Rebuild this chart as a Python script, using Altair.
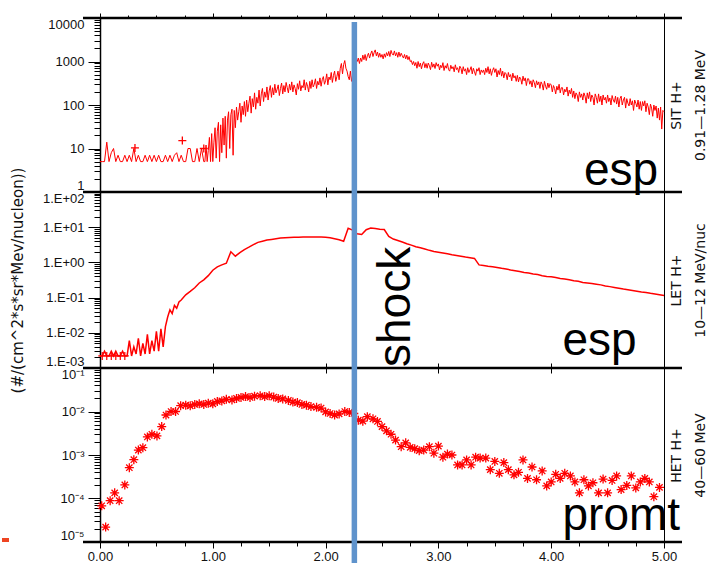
import altair as alt
import pandas as pd

# ---------------- data ----------------
# Panel 1 : SIT H+ 0.91-1.28 MeV
P1_VA = [  # t = 0.00 .. 0.92 every 0.02
    5, 5, 5, 14, 5, 8, 10, 5, 7, 5,
    5, 7, 5, 7, 5, 10, 5, 7, 5, 5,
    7, 5, 7, 5, 7, 5, 7, 5, 5, 7,
    5, 7, 5, 7, 8, 5, 7, 5, 5, 10,
    10, 5, 5, 10, 5, 10, 5,
]
P1_VB = [  # t = 0.93 .. 5.00 every 0.01
    5, 12, 5, 9, 18, 5, 22,
    5, 14, 30, 6, 25, 40, 5, 35, 8, 50,
    12, 55, 6, 45, 70, 10, 60, 80, 7, 75,
    30, 90, 45, 70, 110, 40, 95, 60, 120, 55,
    130, 70, 110, 160, 65, 140, 90, 190, 80, 150,
    110, 220, 95, 180, 240, 120, 200, 150, 260, 130,
    210, 280, 150, 250, 170, 300, 190, 230, 290, 165,
    240, 320, 180, 280, 200, 330, 250, 190, 300, 220,
    340, 200, 290, 240, 170, 310, 230, 360, 210, 280,
    250, 380, 220, 330, 270, 200, 350, 240, 380, 260,
    300, 400, 240, 350, 290, 420, 270, 380, 450, 300,
    360, 520, 290, 440, 380, 560, 330, 480, 600, 350,
    450, 600, 380, 700, 900, 520, 850, 1050, 700, 600,
    450, 380, 600, 350, 500, 750, 900, 1100, 1000, 1200,
    900, 1200, 1000, 1400, 1100, 1450, 1050, 1350, 1550, 1200,
    1500, 1750, 1300, 1600, 1850, 1350, 1650, 1250, 1550, 1250,
    1450, 1150, 1500, 1250, 1600, 1350, 1700, 1300, 1800, 1500,
    1400, 1750, 1350, 1600, 1250, 1650, 1300, 1550, 1350, 1200,
    1450, 1150, 1400, 1100, 1300, 1000, 1050, 850, 1000, 800,
    950, 700, 1000, 760, 920, 680, 880, 990, 720, 900,
    700, 920, 800, 650, 960, 740, 880, 690, 940, 780,
    880, 640, 820, 720, 940, 620, 800, 700, 900, 650,
    600, 820, 680, 760, 580, 840, 650, 720, 560, 780,
    700, 520, 760, 600, 680, 500, 720, 560, 640, 760,
    520, 700, 580, 480, 680, 600, 720, 500, 640, 560,
    640, 500, 700, 560, 760, 520, 680, 480, 620, 720,
    560, 680, 440, 620, 500, 700, 460, 600, 420, 560,
    520, 380, 560, 440, 500, 360, 540, 420, 470, 350,
    480, 340, 440, 400, 300, 460, 360, 420, 280, 400,
    400, 300, 360, 260, 380, 330, 250, 360, 290, 340,
    240, 340, 300, 220, 350, 270, 230, 320, 250, 310,
    290, 200, 280, 240, 180, 270, 220, 300, 190, 250,
    250, 170, 230, 200, 260, 160, 220, 180, 240, 150,
    210, 140, 190, 170, 120, 200, 150, 180, 130, 190,
    160, 110, 190, 140, 200, 120, 170, 150, 100, 180,
    150, 110, 180, 120, 160, 100, 170, 130, 150, 110,
    170, 120, 145, 100, 165, 130, 115, 160, 105, 150,
    90, 140, 160, 100, 130, 150, 85, 140, 110, 95,
    140, 100, 125, 75, 130, 110, 90, 130, 80, 120,
    75, 120, 95, 125, 70, 110, 90, 60, 105, 85,
    55, 100, 75, 95, 50, 85, 45, 90, 28, 75,
    70,
]
P1_PLUS_T = [0.31, 0.73, 0.92]
P1_PLUS_V = [10.3, 15.2, 10.0]

# Panel 2 : LET H+ 10-12 MeV/nuc
P2_VA = [  # t = 0.00 .. 0.70 every 0.02
    2.2e-3, 2.2e-3, 3e-3, 2.2e-3, 2.2e-3, 3e-3, 2.2e-3, 3e-3, 2.2e-3, 2.2e-3,
    3e-3, 2.2e-3, 2.2e-3, 6e-3, 2.2e-3, 4e-3, 2.5e-3, 7e-3, 2.2e-3, 5e-3,
    2.5e-3, 9e-3, 2.5e-3, 6e-3, 3e-3, 1.1e-2, 3e-3, 1.3e-2, 4e-3, 1.5e-2,
    2.8e-2, 0.045, 0.035, 0.06, 0.05, 0.075,
]
P2_VB = [  # t = 0.72 .. 5.00 every 0.04
    0.085, 0.12, 0.15, 0.19, 0.26, 0.32, 0.42, 0.6, 0.75, 0.85,
    0.95, 2.0, 1.5, 1.9, 2.3, 2.7, 3.2, 3.7, 4.0, 4.3,
    4.5, 4.7, 4.9, 5.0, 5.1, 5.2, 5.2, 5.3, 5.3, 5.3,
    5.3, 5.25, 5.2, 5.0, 4.7, 4.4, 4.0, 9.3, 8.3, 6.5,
    6.2, 8.5, 9.5, 9.2, 8.8, 8.6, 5.5, 4.6, 4.2, 3.8,
    3.4, 3.1, 2.8, 2.6, 2.4, 2.2, 2.05, 1.95, 1.85, 1.75,
    1.65, 1.58, 1.5, 1.42, 1.36, 1.3, 0.85, 0.82, 0.78, 0.75,
    0.72, 0.68, 0.65, 0.61, 0.58, 0.55, 0.52, 0.5, 0.47, 0.45,
    0.42, 0.4, 0.39, 0.37, 0.35, 0.34, 0.32, 0.3, 0.29, 0.27,
    0.26, 0.25, 0.24, 0.23, 0.215, 0.205, 0.195, 0.185, 0.175, 0.167,
    0.16, 0.152, 0.145, 0.14, 0.132, 0.126, 0.12, 0.115,
]
P2_PLUS_T = [0.02, 0.06, 0.10, 0.14, 0.18, 0.22]
P2_PLUS_V = [2.2e-3, 2.2e-3, 2.2e-3, 2.2e-3, 2.2e-3, 2.2e-3]

# Panel 3 : HET H+ 40-60 MeV (hourly points)
P3_T = [
    0.015, 0.05, 0.09, 0.13, 0.17, 0.22, 0.26, 0.30, 0.34, 0.38,
    0.42, 0.46, 0.505, 0.547, 0.585, 0.63, 0.67, 0.715, 0.76, 0.80,
    0.84, 0.88, 0.92, 0.96, 1.00, 1.04, 1.08, 1.12, 1.17, 1.21,
    1.25, 1.29, 1.33, 1.37, 1.42, 1.46, 1.50, 1.54, 1.58, 1.62,
    1.67, 1.71, 1.75, 1.79, 1.83, 1.87, 1.92, 1.96, 2.00, 2.04,
    2.08, 2.12, 2.17, 2.21, 2.25, 2.29, 2.33, 2.37, 2.42, 2.46,
    2.50, 2.54, 2.58, 2.62, 2.67, 2.71, 2.75, 2.79, 2.83, 2.87,
    2.92, 2.96, 3.00, 3.04, 3.08, 3.12, 3.17, 3.21, 3.25, 3.29,
    3.33, 3.37, 3.42, 3.46, 3.50, 3.54, 3.58, 3.62, 3.67, 3.71,
    3.75, 3.79, 3.83, 3.87, 3.92, 3.96, 4.00, 4.04, 4.08, 4.12,
    4.17, 4.21, 4.25, 4.29, 4.33, 4.37, 4.42, 4.46, 4.50, 4.54,
    4.58, 4.62, 4.67, 4.71, 4.75, 4.79, 4.83, 4.87, 4.91, 4.96,
]
P3_V = [
    6.8e-5, 2.2e-5, 8.9e-5, 1.35e-4, 8.9e-5, 2.05e-4, 5.1e-4, 7.8e-4, 1.3e-3, 1.47e-3,
    2.6e-3, 3.0e-3, 2.75e-3, 4.5e-3, 8.3e-3, 1.0e-2, 1.0e-2, 1.36e-2, 1.4e-2, 1.35e-2,
    1.45e-2, 1.5e-2, 1.45e-2, 1.55e-2, 1.5e-2, 1.7e-2, 1.75e-2, 1.9e-2, 1.85e-2, 2.0e-2,
    2.1e-2, 2.2e-2, 2.1e-2, 2.25e-2, 2.3e-2, 2.2e-2, 2.3e-2, 2.15e-2, 2.0e-2, 1.95e-2,
    1.8e-2, 1.65e-2, 1.6e-2, 1.45e-2, 1.4e-2, 1.3e-2, 1.25e-2, 1.2e-2, 9.8e-3, 9.0e-3,
    8.3e-3, 8.8e-3, 1.0e-2, 9.5e-3, 9.0e-3, 6.3e-3, 6.0e-3, 7.6e-3, 6.8e-3, 5.9e-3,
    4.5e-3, 3.6e-3, 3.0e-3, 2.2e-3, 1.55e-3, 1.9e-3, 1.5e-3, 1.4e-3, 1.26e-3, 1.3e-3,
    1.55e-3, 1.1e-3, 1.6e-3, 8.9e-4, 1.05e-3, 1.0e-3, 5.9e-4, 5.9e-4, 7.7e-4, 5.9e-4,
    8.9e-4, 8.5e-4, 8.5e-4, 4.6e-4, 7.1e-4, 3.8e-4, 6.7e-4, 4.6e-4, 3.5e-4, 4.0e-4,
    7.7e-4, 2.9e-4, 5.3e-4, 2.7e-4, 4.3e-4, 1.95e-4, 2.4e-4, 3.6e-4, 2.9e-4, 3.8e-4,
    3.3e-4, 2.4e-4, 1.35e-4, 2.7e-4, 1.95e-4, 2.3e-4, 1.35e-4, 2.8e-4, 1.35e-4, 2.6e-4,
    3.3e-4, 1.6e-4, 2.0e-4, 3.3e-4, 1.75e-4, 2.4e-4, 2.9e-4, 2.4e-4, 1.1e-4, 1.8e-4,
]

RIGHT_TITLES = [
    ["SIT H+", "0.91—1.28  MeV"],
    ["LET H+", "10—12  MeV/nuc"],
    ["HET H+", "40—60  MeV"],
]
LEFT_TITLE = "(#/(cm^2*s*sr*Mev/nucleon))"
Y_EXP_RANGES = [(0, 4), (-3, 2), (-5, -1)]
SHOCK_T = 2.255
ANNOTATIONS = [
    # (panel, text, t, value, angle)
    (0, "esp", 4.29, 1.45, 0),
    (1, "esp", 4.10, 2.34e-3, 0),
    (1, "shock", 2.75, 1.07e-3, 270),
    (2, "promt", 4.10, 1.85e-5, 0),
]

assert len(P1_VA) == 47 and len(P1_VB) == 408
assert len(P2_VA) == 36 and len(P2_VB) == 108
assert len(P3_T) == len(P3_V)

P1_T = [round(i * 0.02, 2) for i in range(len(P1_VA))] + [
    round(0.93 + i * 0.01, 2) for i in range(len(P1_VB))
]
P1_V = P1_VA + P1_VB
P2_T = [round(i * 0.02, 2) for i in range(len(P2_VA))] + [
    round(0.72 + i * 0.04, 2) for i in range(len(P2_VB))
]
P2_V = P2_VA + P2_VB

# ---------------- styling ----------------
RED = "#ff0000"
BLUE = "#5f93cc"
FONT = "Liberation Sans"
W = 564
HEIGHTS = [174, 176, 174]
PLUS = "M-1,0L1,0M0,-1L0,1"
STAR = "M-1,0L1,0M0,-1L0,1M-0.7,-0.7L0.7,0.7M-0.7,0.7L0.7,-0.7"

IS_DEC = "abs(log(datum.value)/LN10 - round(log(datum.value)/LN10)) < 0.001"
EXP = "round(log(datum.value)/LN10)"
LABEL_EXPRS = [
    f"{IS_DEC} ? format(datum.value, 'd') : ''",
    f"{IS_DEC} ? '1.E' + ({EXP} < 0 ? '-' : '+') + '0' + abs({EXP}) : ''",
    f"{IS_DEC} ? '10⁻' + ['⁰','¹','²','³','⁴','⁵'][abs({EXP})] : ''",
]

XS = alt.Scale(domain=[0, 5], nice=False, zero=False)
X_QUARTERS = [i * 0.25 for i in range(21)]
X_INNER = [1, 2, 3, 4]


def log_ticks(lo, hi):
    vals = [float(f"{m}e{k}") for k in range(lo, hi) for m in range(1, 10)]
    vals.append(float(f"1e{hi}"))
    return vals


def y_scale(i):
    lo, hi = Y_EXP_RANGES[i]
    return alt.Scale(type="log", domain=[float(f"1e{lo}"), float(f"1e{hi}")], nice=False)


def left_axis(i, **extra):
    lo, hi = Y_EXP_RANGES[i]
    return alt.Axis(
        orient="left", values=log_ticks(lo, hi), labelExpr=LABEL_EXPRS[i], grid=False,
        domain=True, domainColor="black", domainWidth=1.5,
        ticks=True, tickColor="black", tickWidth=1,
        tickSize={"condition": {"test": IS_DEC, "value": 12}, "value": 6},
        labelFlush=True, labelOverlap=False, labelFont=FONT, labelFontSize=13,
        labelColor="#111", labelPadding=4, **extra)


def right_axis(i):
    return alt.Axis(
        orient="right", title=RIGHT_TITLES[i], ticks=False, labels=False, grid=False,
        domain=True, domainColor="black", domainWidth=1,
        titleAngle=270, titleAlign="center", titleBaseline="top",
        titleX=5, titleY=HEIGHTS[i] / 2,
        titleFont="DejaVu Sans", titleFontSize=14, titleFontWeight="normal",
        titleColor="#111", titleLineHeight=24)


def x_axis(orient, values, major, minor=None, labels=False):
    kw = dict(orient=orient, values=values, grid=False, domain=False, ticks=True,
              tickColor="black", tickWidth=1, title=None, labels=labels)
    if minor is None:
        kw["tickSize"] = major
    else:
        kw["tickSize"] = {"condition": {"test": "datum.value % 1 === 0", "value": major},
                          "value": minor}
    if labels:
        kw.update(labelExpr="datum.value % 1 === 0 ? format(datum.value, '.2f') : ''",
                  labelFont=FONT, labelFontSize=13, labelColor="#111",
                  labelFlush=False, labelOverlap=False, labelPadding=2)
    return alt.Axis(**kw)


def sep_rule(y):
    return alt.Chart().mark_rule(color="black", strokeWidth=2.5).encode(
        x=alt.value(-17), x2=alt.value(582), y=alt.value(y))


def build_panel(i, data_layers, top_vals, top_major, top_minor,
                blue_y0, blue_y1, seps, extra=()):
    h = HEIGHTS[i]
    layers = list(data_layers)
    anns = [a for a in ANNOTATIONS if a[0] == i]
    for k, (_, txt, t, v, ang) in enumerate(anns):
        mk = dict(text=txt, font=FONT, fontSize=46, align="left",
                  baseline="alphabetic", color="black")
        if ang:
            mk["angle"] = ang
        if k == 0:
            xe = alt.XDatum(t, type="quantitative", scale=XS,
                            axis=x_axis("top", top_vals, top_major, top_minor))
            ye = alt.YDatum(v, type="quantitative", scale=y_scale(i), axis=right_axis(i))
        else:
            xe = alt.XDatum(t, type="quantitative", axis=None)
            ye = alt.YDatum(v, type="quantitative", axis=None)
        layers.append(alt.Chart().mark_text(**mk).encode(x=xe, y=ye))
    for y in seps:
        layers.append(sep_rule(y))
    layers.extend(extra)
    layers.append(alt.Chart().mark_rule(color=BLUE, strokeWidth=5.5).encode(
        x=alt.XDatum(SHOCK_T, type="quantitative", axis=None),
        y=alt.value(blue_y0), y2=alt.value(blue_y1)))
    return alt.layer(*layers).resolve_axis(x="independent", y="independent").properties(
        width=W, height=h)


# ---------------- panel 1 ----------------
df1 = pd.DataFrame({"t": P1_T, "v": P1_V})
df1p = pd.DataFrame({"t": P1_PLUS_T, "v": P1_PLUS_V})
p1_line = alt.Chart(df1).mark_line(color=RED, strokeWidth=1.0).encode(
    x=alt.X("t:Q", scale=XS, axis=x_axis("bottom", X_INNER, 5)),
    y=alt.Y("v:Q", scale=y_scale(0), axis=left_axis(0, title=None)))
p1_pts = alt.Chart(df1p).mark_point(shape=PLUS, size=64, filled=False, color=RED,
                                    strokeWidth=1.3, opacity=1).encode(
    x=alt.X("t:Q", axis=None), y=alt.Y("v:Q", axis=None))
p1 = build_panel(0, [p1_line, p1_pts], X_QUARTERS, 5, 3,
                 4, HEIGHTS[0], [0, HEIGHTS[0]])

# ---------------- panel 2 ----------------
df2 = pd.DataFrame({"t": P2_T, "v": P2_V})
df2p = pd.DataFrame({"t": P2_PLUS_T, "v": P2_PLUS_V})
p2_line = alt.Chart(df2).mark_line(color=RED, strokeWidth=1.5).encode(
    x=alt.X("t:Q", scale=XS, axis=x_axis("bottom", X_INNER, 5)),
    y=alt.Y("v:Q", scale=y_scale(1),
            axis=left_axis(1, title=LEFT_TITLE, titleX=-83, titleY=HEIGHTS[1] / 2,
                           titleAngle=270, titleAlign="center", titleBaseline="middle",
                           titleFont="DejaVu Sans", titleFontSize=15,
                           titleFontWeight="normal", titleColor="#111")))
p2_pts = alt.Chart(df2p).mark_point(shape=PLUS, size=64, filled=False, color=RED,
                                    strokeWidth=1.2, opacity=1).encode(
    x=alt.X("t:Q", axis=None), y=alt.Y("v:Q", axis=None))
p2 = build_panel(1, [p2_line, p2_pts], X_INNER, 5, None,
                 0, HEIGHTS[1], [HEIGHTS[1]])

# ---------------- panel 3 ----------------
df3 = pd.DataFrame({"t": P3_T, "v": P3_V})
p3_pts = alt.Chart(df3).mark_point(shape=STAR, size=81, filled=False, color=RED,
                                   strokeWidth=1.3, opacity=1).encode(
    x=alt.X("t:Q", scale=XS, axis=x_axis("bottom", X_QUARTERS, 6, 4, labels=True)),
    y=alt.Y("v:Q", scale=y_scale(2), axis=left_axis(2, title=None)))
red_dash = alt.Chart().mark_rule(color="#ee4422", strokeWidth=4).encode(
    x=alt.value(-98), x2=alt.value(-91), y=alt.value(172))
p3 = build_panel(2, [p3_pts], X_INNER, 5, None,
                 0, HEIGHTS[2] + 25, [HEIGHTS[2]], extra=[red_dash])

chart = alt.vconcat(p1, p2, p3, spacing=0, bounds="flush").properties(
    padding={"left": 0, "top": 12, "right": 0, "bottom": 0},
    background="white",
).configure_view(strokeWidth=0)

chart.save("out.html", embed_options={"renderer": "svg", "actions": False})
